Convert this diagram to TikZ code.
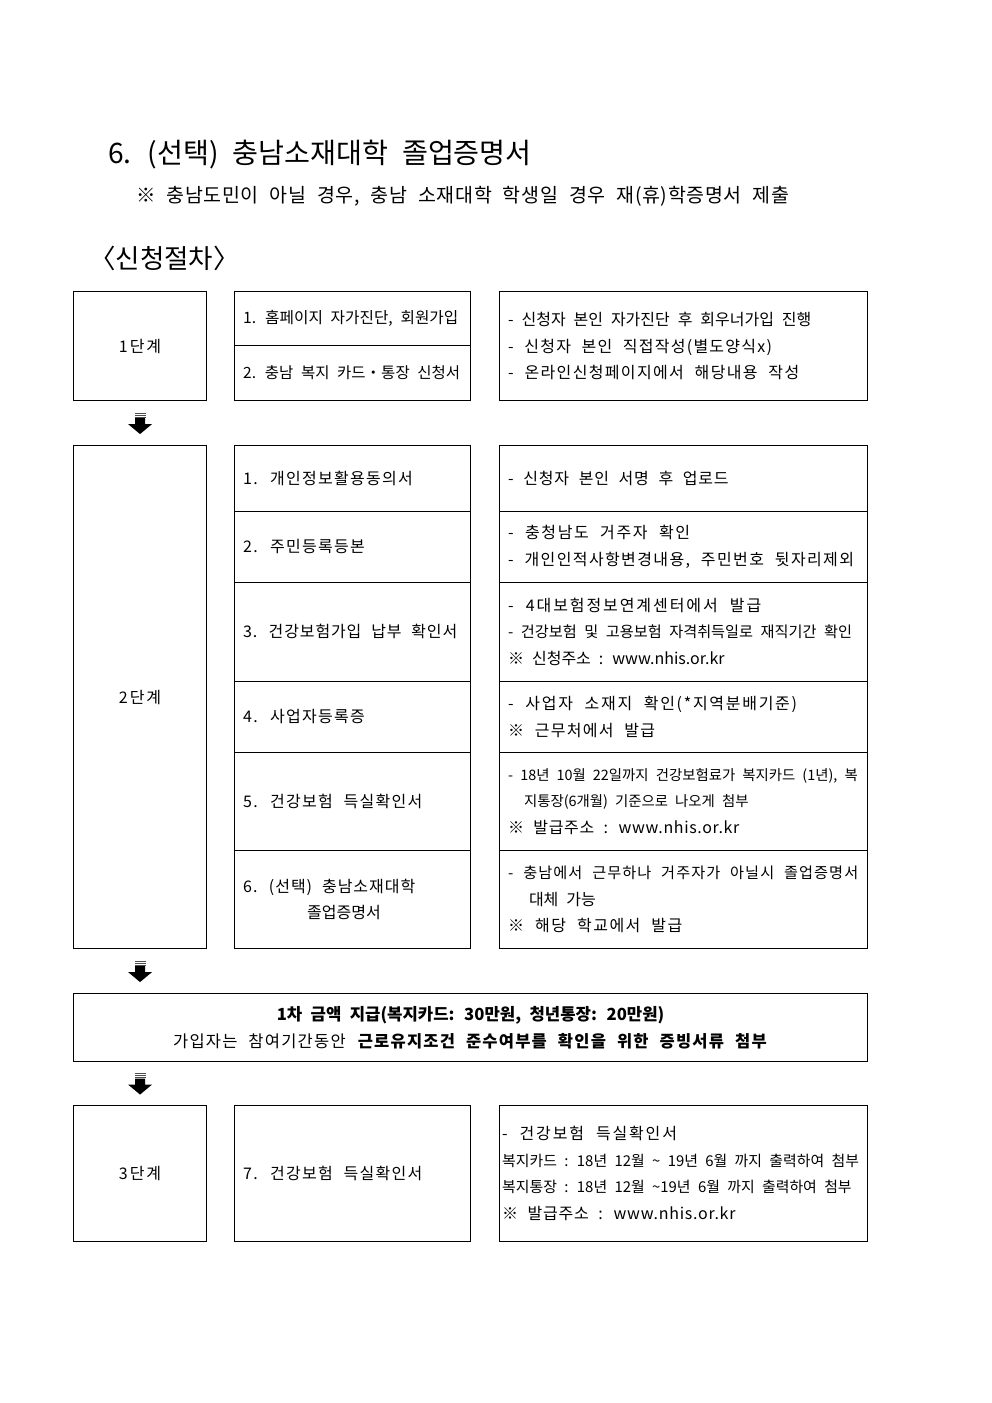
\documentclass[tikz,border=0pt]{standalone}
\usepackage{fontspec}
\setmainfont[WordSpace=2.2]{Noto Sans CJK KR}
\usetikzlibrary{calc}
\newcommand{\lsp}[1]{\addfontfeatures{LetterSpace=#1}}
\newcommand{\fsz}[1]{\fontsize{#1}{26.7}\selectfont}
\begin{document}
\begin{tikzpicture}[x=1pt,y=-1pt,
  cell/.style={draw, line width=1.1pt, inner sep=0pt, anchor=north west},
  txt/.style={anchor=west, inner sep=0pt, align=left, font=\fsz{16}},
  ctxt/.style={anchor=center, inner sep=0pt, align=center, font=\fsz{16}},
  stepdown/.pic={
    \foreach \yy in {-10,-8,-6} \draw[line width=0.9pt, black!70] (-5.5,\yy) -- (5.5,\yy);
    \fill[black] (-5,-5) -- (5,-5) -- (5,1) -- (12,1) -- (0,11) -- (-12,1) -- (-5,1) -- cycle;
  }
]
\useasboundingbox (0,0) rectangle (992,1403);

% headings
\node[anchor=west, inner sep=0pt, font=\fontsize{28.2}{30}\selectfont] (title) at (108,155) {6. (선택) 충남소재대학 졸업증명서};
\node[anchor=west, inner sep=0pt, font=\fontsize{19.5}{22}\selectfont] (note) at (136,196) {\lsp{3.2}※ 충남도민이 아닐 경우, 충남 소재대학 학생일 경우 재(휴)학증명서 제출};
\node[anchor=west, inner sep=0pt, font=\fontsize{26.5}{28}\selectfont] (proc) at (89,258) {〈신청절차〉};

% ---------- step 1 ----------
\node[cell, minimum width=133pt, minimum height=109pt] (L1) at (73,291) {};
\node[ctxt] (L1t) at (L1.center) {\lsp{12}1단계};
\node[cell, minimum width=236pt, minimum height=54pt] (M1a) at (234,291) {};
\node[cell, minimum width=236pt, minimum height=55pt] (M1b) at (234,345) {};
\node[txt, font=\fsz{15.7}] (M1at) at ([xshift=9pt]M1a.west) {1. 홈페이지 자가진단, 회원가입};
\node[txt, font=\fsz{15.5}] (M1bt) at ([xshift=9pt]M1b.west) {2. 충남 복지 카드・통장 신청서};
\node[cell, minimum width=368pt, minimum height=109pt] (R1) at (499,291) {};
\node[txt] (R1t) at ([xshift=9pt]R1.west) {- 신청자 본인 자가진단 후 회우너가입 진행\\{\lsp{7.8}- 신청자 본인 직접작성(별도양식x)}\\{\lsp{8.4}- 온라인신청페이지에서 해당내용 작성}};

% ---------- step 2 ----------
\node[cell, minimum width=133pt, minimum height=503pt] (L2) at (73,445) {};
\node[ctxt] (L2t) at (L2.center) {\lsp{12}2단계};

\node[cell, minimum width=236pt, minimum height=65.5pt] (M21) at (234,445) {};
\node[cell, minimum width=236pt, minimum height=71.5pt] (M22) at (234,510.5) {};
\node[cell, minimum width=236pt, minimum height=98.5pt] (M23) at (234,582) {};
\node[cell, minimum width=236pt, minimum height=71.5pt] (M24) at (234,680.5) {};
\node[cell, minimum width=236pt, minimum height=98pt] (M25) at (234,752) {};
\node[cell, minimum width=236pt, minimum height=98pt] (M26) at (234,850) {};

\node[cell, minimum width=368pt, minimum height=65.5pt] (R21) at (499,445) {};
\node[cell, minimum width=368pt, minimum height=71.5pt] (R22) at (499,510.5) {};
\node[cell, minimum width=368pt, minimum height=98.5pt] (R23) at (499,582) {};
\node[cell, minimum width=368pt, minimum height=71.5pt] (R24) at (499,680.5) {};
\node[cell, minimum width=368pt, minimum height=98pt] (R25) at (499,752) {};
\node[cell, minimum width=368pt, minimum height=98pt] (R26) at (499,850) {};

\node[txt] (M21t) at ([xshift=9pt]M21.west) {\lsp{8}1. 개인정보활용동의서};
\node[txt] (M22t) at ([xshift=9pt]M22.west) {\lsp{8}2. 주민등록등본};
\node[txt] (M23t) at ([xshift=9pt]M23.west) {\lsp{5.5}3. 건강보험가입 납부 확인서};
\node[txt] (M24t) at ([xshift=9pt]M24.west) {\lsp{8}4. 사업자등록증};
\node[txt] (M25t) at ([xshift=9pt]M25.west) {\lsp{8}5. 건강보험 득실확인서};
\node[txt] (M26t) at ([xshift=9pt]M26.west) {\lsp{6}6. (선택) 충남소재대학\\\hspace*{64pt}졸업증명서};

\node[txt] (R21t) at ([xshift=9pt]R21.west) {\lsp{5}- 신청자 본인 서명 후 업로드};
\node[txt] (R22t) at ([xshift=9pt]R22.west) {{\lsp{10}- 충청남도 거주자 확인}\\{\lsp{8.6}- 개인인적사항변경내용, 주민번호 뒷자리제외}};
\node[txt] (R23t) at ([xshift=9pt]R23.west) {{\lsp{12}- 4대보험정보연계센터에서 발급}\\{\fsz{15.2}- 건강보험 및 고용보험 자격취득일로 재직기간 확인}\\※ 신청주소 : www.nhis.or.kr};
\node[txt] (R24t) at ([xshift=9pt]R24.west) {{\lsp{10.7}- 사업자 소재지 확인(*지역분배기준)}\\{\lsp{8}※ 근무처에서 발급}};
\node[txt] (R25t) at ([xshift=9pt]R25.west) {{\fsz{14.4}- 18년 10월 22일까지 건강보험료가 복지카드 (1년), 복}\\{\fsz{14.4}\hspace*{1.1em}지통장(6개월) 기준으로 나오게 첨부}\\{\lsp{4}※ 발급주소 : www.nhis.or.kr}};
\node[txt] (R26t) at ([xshift=9pt]R26.west) {{\fsz{15.2}\lsp{7}- 충남에서 근무하나 거주자가 아닐시 졸업증명서}\\\hspace*{1.3em}대체 가능\\{\lsp{9}※ 해당 학교에서 발급}};

% ---------- first payment ----------
\node[cell, minimum width=794pt, minimum height=68pt] (P1) at (73,993) {};
\node[ctxt] (P1t) at (P1.center) {{\fsz{16.7}\textbf{1차 금액 지급(복지카드: 30만원, 청년통장: 20만원)}}\\{\fsz{16.5}\lsp{7.5}가입자는 참여기간동안 \textbf{근로유지조건 준수여부를 확인을 위한 증빙서류 첨부}}};

% ---------- step 3 ----------
\node[cell, minimum width=133pt, minimum height=136pt] (L3) at (73,1105) {};
\node[ctxt] (L3t) at (L3.center) {\lsp{12}3단계};
\node[cell, minimum width=236pt, minimum height=136pt] (M3) at (234,1105) {};
\node[txt] (M3t) at ([xshift=9pt]M3.west) {\lsp{8}7. 건강보험 득실확인서};
\node[cell, minimum width=368pt, minimum height=136pt] (R3) at (499,1105) {};
\node[txt] (R3t) at ([xshift=3pt]R3.west) {{\lsp{11.5}- 건강보험 득실확인서}\\{\fsz{14.9}복지카드 : 18년 12월 {\char"7E} 19년 6월 까지 출력하여 첨부}\\{\fsz{14.9}복지통장 : 18년 12월 {\char"7E}19년 6월 까지 출력하여 첨부}\\{\lsp{4.6}※ 발급주소 : www.nhis.or.kr}};

% ---------- arrows between steps ----------
\pic at ($(L1.south)!0.5!(L2.north)$) {stepdown};
\pic at ($(L2.south)!0.5!(P1.north -| L2.south)$) {stepdown};
\pic at ($(P1.south -| L3.north)!0.5!(L3.north)$) {stepdown};
\end{tikzpicture}
\end{document}
